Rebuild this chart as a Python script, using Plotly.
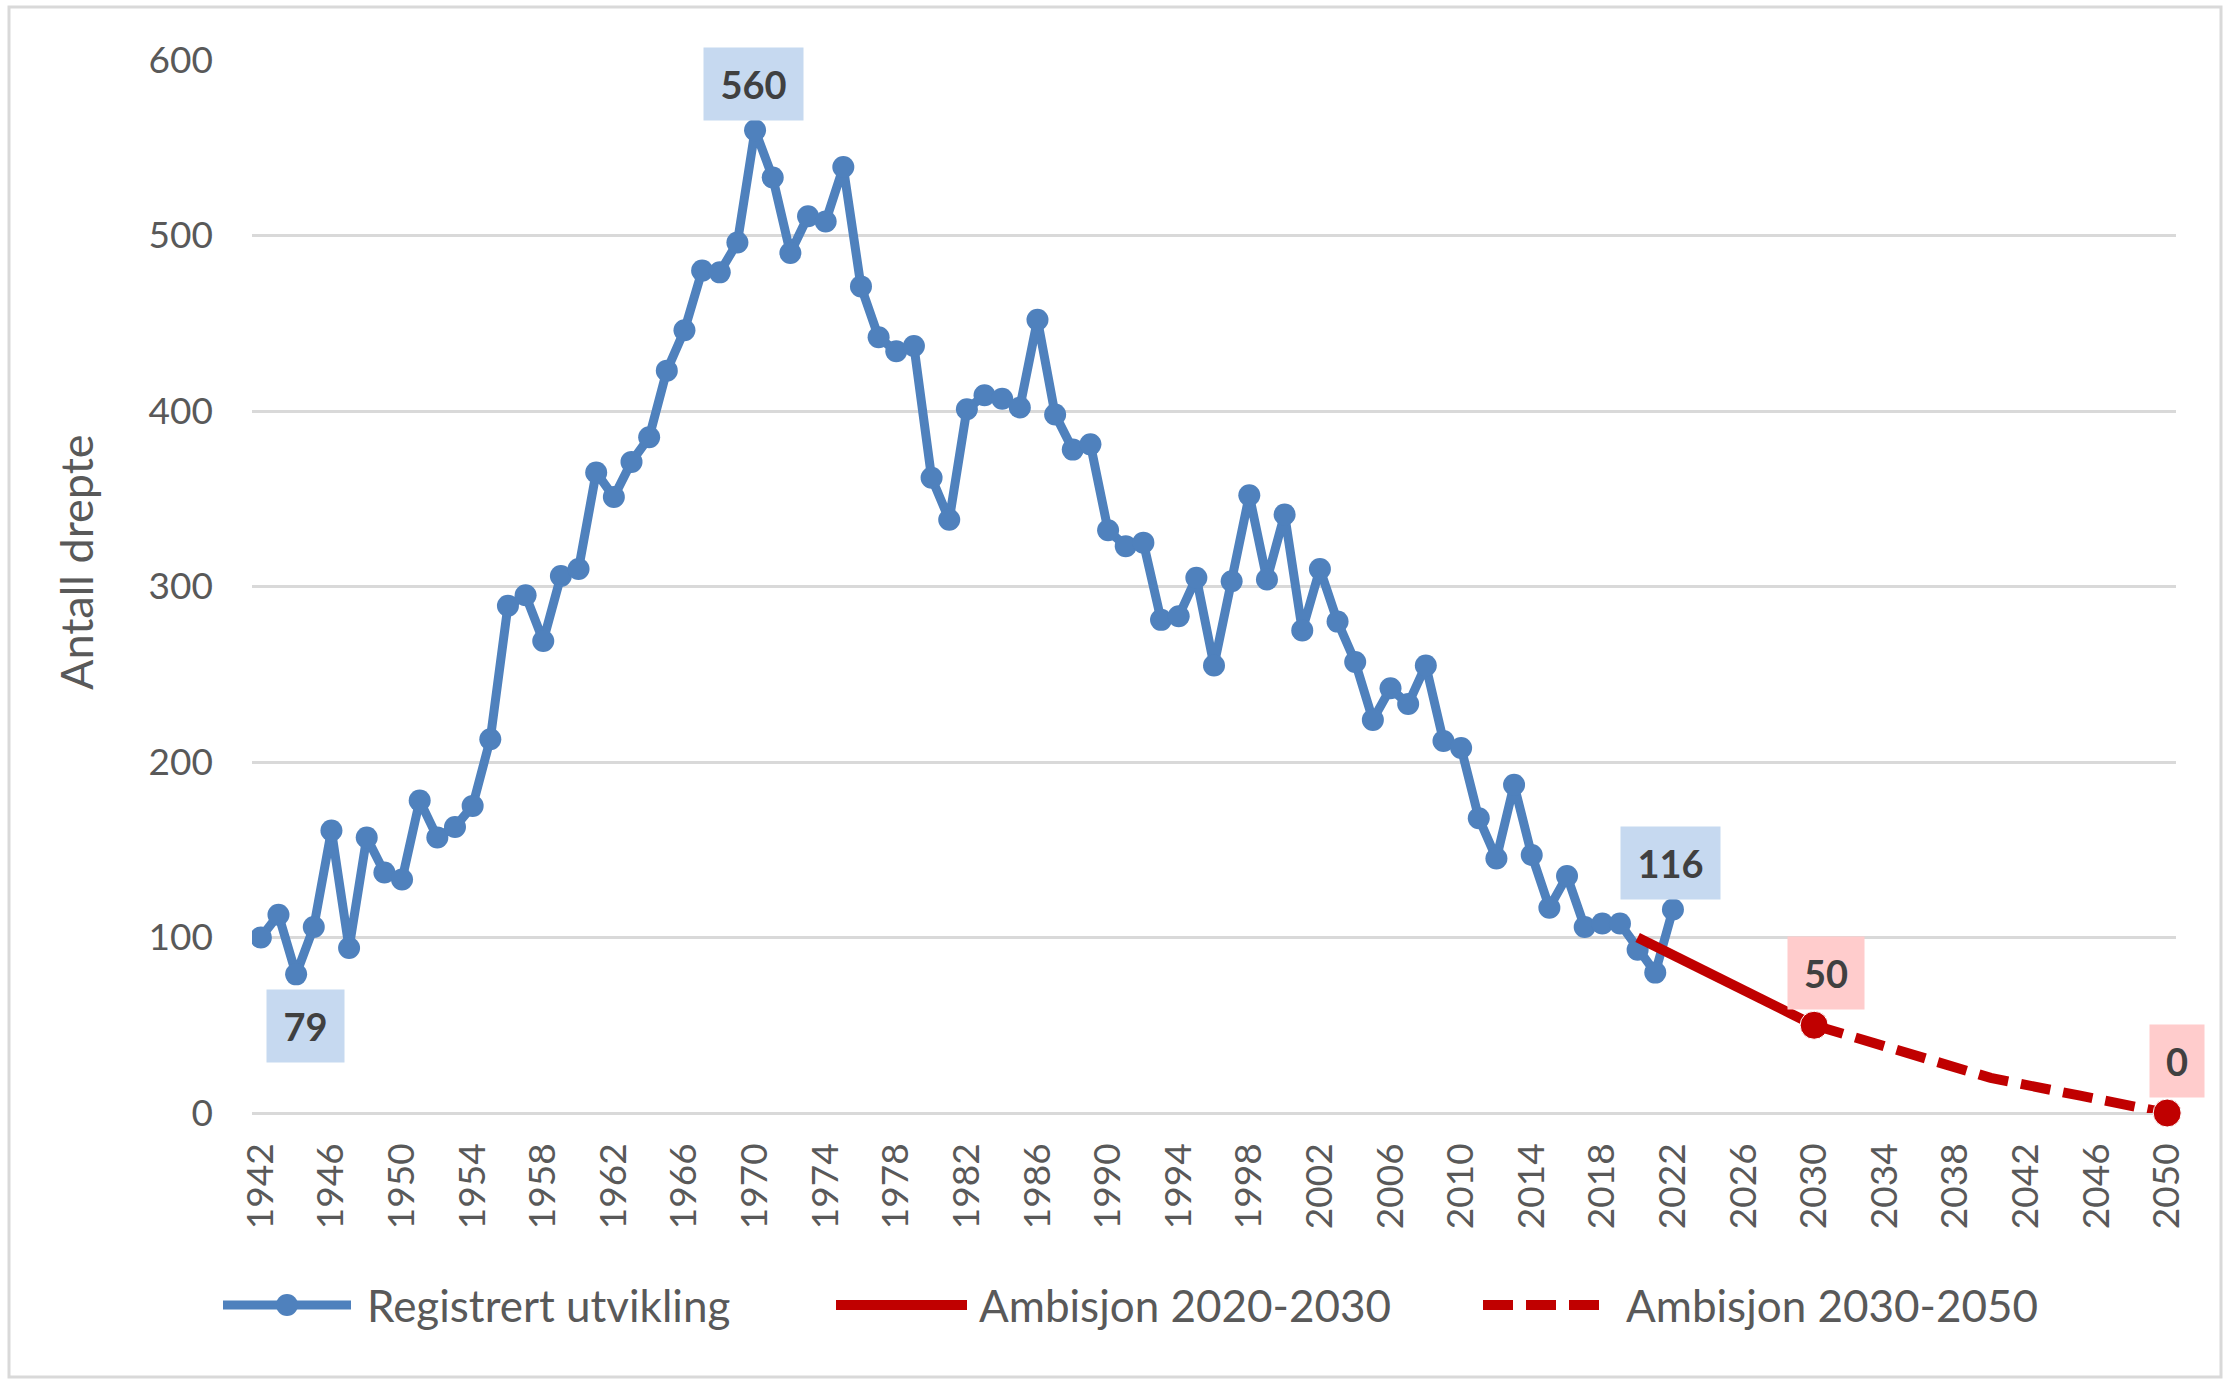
import plotly.graph_objects as go

# ---------------- data ----------------
years_reg = list(range(1942, 2023))
deaths = [100, 113, 79, 106, 161, 94, 157, 137, 133, 178,
          157, 163, 175, 213, 289, 295, 269, 306, 310, 365,
          351, 371, 385, 423, 446, 480, 479, 496, 560, 533,
          490, 511, 508, 539, 471, 442, 434, 437, 362, 338,
          401, 409, 407, 402, 452, 398, 378, 381, 332, 323,
          325, 281, 283, 305, 255, 303, 352, 304, 341, 275,
          310, 280, 257, 224, 242, 233, 255, 212, 208, 168,
          145, 187, 147, 117, 135, 106, 108, 108, 93, 80,
          116]

amb1_years = [2020, 2030]
amb1_vals = [100, 50]

amb2_years = [2030, 2035, 2040, 2045, 2050]
amb2_vals = [50, 35, 20, 10, 0]

series_names = ["Registrert utvikling", "Ambisjon 2020-2030", "Ambisjon 2030-2050"]
y_title = "Antall drepte"

# labelled points
reg_labels = [1944, 1970, 2022]
amb_labels = [(2030, amb1_years, amb1_vals), (2050, amb2_years, amb2_vals)]

# ---------------- style ----------------
W, H = 2229, 1383
ML, MR, MT, MB = 252, 53, 60, 270
PW, PH = W - ML - MR, H - MT - MB
BLUE = "#4f81bd"
RED = "#c00000"
GRID = "#d9d9d9"
TXT = "#595959"
FONT = "Lato"
DASH = "30px,13px"

def px_to_paper_x(px):
    return (px - ML) / PW

def px_to_paper_y(py):
    return (H - MB - py) / PH

fig = go.Figure()

fig.add_trace(go.Scatter(
    x=years_reg, y=deaths, mode="lines+markers",
    line=dict(color=BLUE, width=9), marker=dict(color=BLUE, size=22, opacity=1),
    name=series_names[0], showlegend=False))

fig.add_trace(go.Scatter(
    x=amb1_years, y=amb1_vals, mode="lines+markers",
    line=dict(color=RED, width=10),
    marker=dict(color=RED, opacity=1,
                size=[0 if y != 2030 else 28 for y in amb1_years]),
    name=series_names[1], showlegend=False, cliponaxis=False))

fig.add_trace(go.Scatter(
    x=amb2_years, y=amb2_vals, mode="lines+markers",
    line=dict(color=RED, width=10, dash=DASH),
    marker=dict(color=RED, opacity=1,
                size=[28 if y == 2050 else 0 for y in amb2_years]),
    name=series_names[2], showlegend=False, cliponaxis=False))

annotations = []
# data labels
label_font = dict(family=FONT, size=38, color="#404040", weight="bold")
for yr in reg_labels:
    v = deaths[years_reg.index(yr)]
    below = yr == 1944
    annotations.append(dict(
        x=yr, y=v, xref="x", yref="y", text=str(v), showarrow=False,
        font=label_font, bgcolor="#c6d9f0",
        width=75 if v < 100 else 97, height=70,
        xshift=9 if below else -2,
        yshift=-52 if below else 46))
for yr, ys, vs in amb_labels:
    v = vs[ys.index(yr)]
    annotations.append(dict(
        x=yr, y=v, xref="x", yref="y", text=str(v), showarrow=False,
        font=label_font, bgcolor="#ffcccc",
        width=74 if v >= 10 else 52, height=70,
        xshift=12 if v >= 10 else 10, yshift=52))

# y-axis title
annotations.append(dict(
    x=px_to_paper_x(76), y=px_to_paper_y(562), xref="paper", yref="paper",
    text=y_title, textangle=-90, showarrow=False,
    font=dict(family=FONT, size=45, color=TXT),
    xanchor="center", yanchor="middle"))

shapes = []
# outer border
shapes.append(dict(type="rect", xref="paper", yref="paper",
                   x0=px_to_paper_x(9), x1=px_to_paper_x(2221),
                   y0=px_to_paper_y(1377), y1=px_to_paper_y(7),
                   line=dict(color=GRID, width=3), layer="below"))

# custom legend
leg_y = px_to_paper_y(1305)
legend_items = [
    (223, 351, BLUE, 9, "solid", True, 365, series_names[0]),
    (836, 967, RED, 10, "solid", False, 977, series_names[1]),
    (1483, 1604, RED, 10, DASH, False, 1624, series_names[2]),
]
for x0, x1, col, w, dash, mk, tx, name in legend_items:
    shapes.append(dict(type="line", xref="paper", yref="paper",
                       x0=px_to_paper_x(x0), x1=px_to_paper_x(x1),
                       y0=leg_y, y1=leg_y, line=dict(color=col, width=w, dash=dash)))
    if mk:
        cx = (x0 + x1) / 2
        shapes.append(dict(type="circle", xref="paper", yref="paper",
                           x0=px_to_paper_x(cx - 11), x1=px_to_paper_x(cx + 11),
                           y0=px_to_paper_y(1305 + 11), y1=px_to_paper_y(1305 - 11),
                           fillcolor=col, line=dict(width=0)))
    annotations.append(dict(
        x=px_to_paper_x(tx), y=leg_y, xref="paper", yref="paper",
        text=name, showarrow=False, xanchor="left", yanchor="middle",
        font=dict(family=FONT, size=44, color=TXT)))

fig.update_layout(
    width=W, height=H,
    margin=dict(l=ML, r=MR, t=MT, b=MB, autoexpand=False),
    paper_bgcolor="white", plot_bgcolor="white",
    showlegend=False,
    annotations=annotations, shapes=shapes,
    font=dict(family=FONT, color=TXT),
)

fig.update_xaxes(
    range=[1941.5, 2050.5], tickmode="linear", tick0=1942, dtick=4,
    tickangle=-90, showgrid=False, zeroline=False, showline=False,
    ticks="", ticklabelstandoff=22,
    tickfont=dict(family=FONT, size=37, color=TXT))

fig.update_yaxes(
    range=[0, 600], tickmode="linear", tick0=0, dtick=100,
    showgrid=True, gridcolor=GRID, gridwidth=3,
    zeroline=True, zerolinecolor=GRID, zerolinewidth=3,
    showline=False, ticks="", ticklabelstandoff=38,
    tickfont=dict(family=FONT, size=37, color=TXT))

fig.write_html("out.html", config={"displayModeBar": False},
               post_script="document.body.style.margin='0';document.body.style.overflow='hidden';")
